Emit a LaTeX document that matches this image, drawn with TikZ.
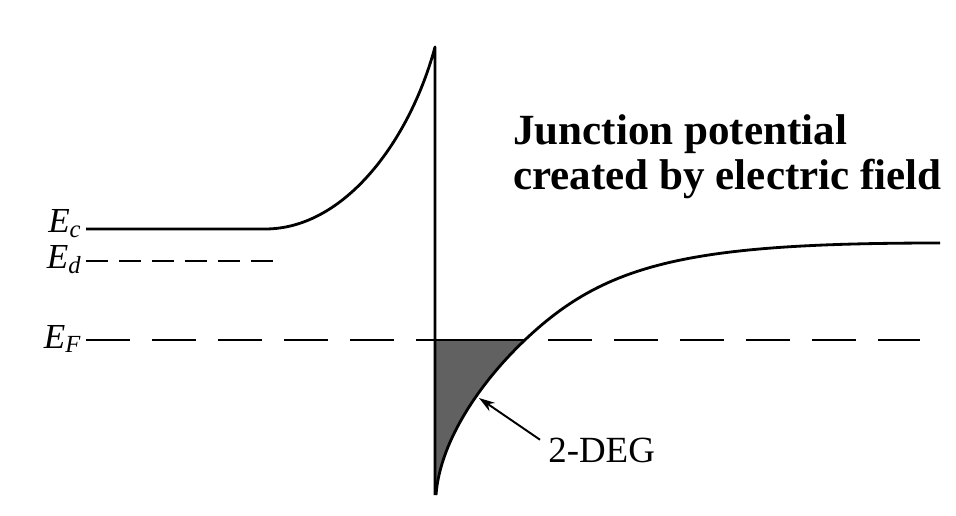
\documentclass[tikz,border=0pt]{standalone}
\usepackage{fontspec}
\setmainfont{Liberation Serif}
\usepackage{tikz}
\usetikzlibrary{arrows.meta, positioning}

\newcommand{\bandlbl}[1]{\textit{E}\raisebox{-0.3ex}{\fontsize{14}{14}\selectfont\textit{#1}}}

\begin{document}
\begin{tikzpicture}[
  band/.style={line width=1.6pt, line join=round},
  lvlshort/.style={line width=1.5pt, dash pattern=on 0.44cm off 0.22cm},
  lvllong/.style={line width=1.5pt, dash pattern=on 0.88cm off 0.44cm},
  lvllbl/.style={anchor=east, inner sep=0pt, font=\fontsize{20}{24}\selectfont},
  arr/.style={-{Stealth[length=0.32cm, width=0.2cm]}, line width=1.1pt},
  gas/.style={fill=black!62}
]
  \useasboundingbox (0,0) rectangle (19.12,10.3);

  \coordinate (ecl) at (1.72,5.72);
  \coordinate (ecr) at (5.30,5.72);
  \coordinate (peak) at (8.70,9.36);
  \coordinate (bot) at (8.72,0.40);
  \coordinate (efl) at (1.72,3.50);
  \coordinate (efr) at (18.40,3.50);
  \coordinate (edl) at (1.72,5.08);
  \coordinate (edr) at (5.46,5.08);
  \coordinate (efx) at (10.50,3.50);
  \coordinate (knee) at (10.54,3.54);
  \coordinate (ecend) at (18.80,5.44);
  \coordinate (tip) at (9.58,2.34);

  % levels
  \draw[lvllong] (efl) -- (efr);
  \draw[lvlshort] (edl) -- (edr);

  % 2-DEG well
  \begin{scope}
    \clip (8.70,0) rectangle (11,3.50);
    \fill[gas] (bot) .. controls (8.80,1.50) and (9.64,2.70) .. (knee)
      .. controls (12.14,5.04) and (13.80,5.44) .. (ecend)
      -- (18.8,10) -- (8.70,10) -- cycle;
  \end{scope}
  \draw[line width=1.5pt] (bot |- efl) -- (efx);

  % band edges
  \draw[band] (ecl) -- (ecr) .. controls (6.90,5.72) and (8.20,7.50) .. (peak) -- (peak |- bot);
  \draw[band] (bot) .. controls (8.80,1.50) and (9.64,2.70) .. (knee)
    .. controls (12.14,5.04) and (13.80,5.44) .. (ecend);

  \node[lvllbl] (ec) at (1.62,5.82) {\bandlbl{c}};
  \node[lvllbl] (ed) at (1.62,5.10) {\bandlbl{d}};
  \node[lvllbl] (ef) at (1.62,3.52) {\bandlbl{F}};

  \node[anchor=base west, inner sep=0pt, font=\fontsize{21}{25}\selectfont] (deg) at (10.96,1.06) {2-DEG};
  \draw[arr] ([shift={(-0.16,-0.05)}]deg.north west) -- (tip);

  \node[anchor=north west, inner sep=0pt, align=left, font=\fontsize{24.5}{25.6}\selectfont\bfseries] (title) at (10.26,8.02)
    {Junction potential\\created by electric field};
\end{tikzpicture}
\end{document}
